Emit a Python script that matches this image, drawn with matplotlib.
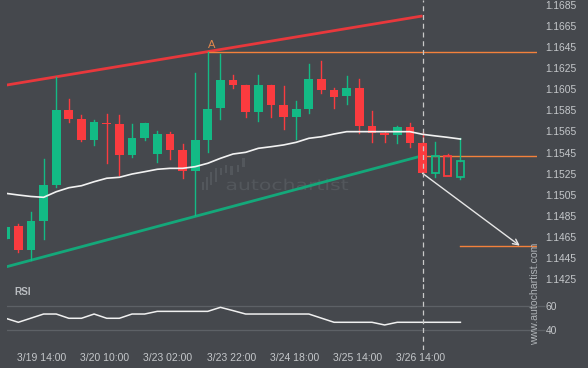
import matplotlib
matplotlib.use("Agg")
import matplotlib.pyplot as plt
from matplotlib.patches import Rectangle, PathPatch
from matplotlib.textpath import TextPath
from matplotlib.font_manager import FontProperties
from matplotlib.transforms import Affine2D, IdentityTransform
import numpy as np

# ---------------- data ----------------
opens = [1.14630, 1.14750, 1.14525, 1.14803, 1.15142, 1.15854, 1.15768, 1.15569, 1.15733, 1.15721,
         1.15427, 1.15591, 1.15436, 1.15626, 1.15474, 1.15278, 1.15569, 1.15875, 1.16138, 1.16091,
         1.15837, 1.16091, 1.15901, 1.15790, 1.15863, 1.16148, 1.16043, 1.15989, 1.16062, 1.15702,
         1.15632, 1.15616, 1.15692, 1.15538, 1.15253, 1.15417, 1.15221]
highs = [1.14746, 1.14769, 1.14889, 1.15386, 1.16164, 1.15958, 1.15806, 1.15759, 1.15816, 1.15806,
         1.15721, 1.15727, 1.15654, 1.15648, 1.15528, 1.16202, 1.16403, 1.16382, 1.16186, 1.16091,
         1.16186, 1.16091, 1.16081, 1.15939, 1.16290, 1.16319, 1.16060, 1.16176, 1.16148, 1.15844,
         1.15654, 1.15702, 1.15727, 1.15648, 1.15547, 1.15436, 1.15591]
lows = [1.14630, 1.14503, 1.14430, 1.14627, 1.15126, 1.15743, 1.15562, 1.15521, 1.15348, 1.15237,
        1.15410, 1.15569, 1.15363, 1.15386, 1.15205, 1.14857, 1.15458, 1.15765, 1.16060, 1.15784,
        1.15752, 1.15790, 1.15670, 1.15576, 1.15828, 1.16012, 1.15870, 1.15908, 1.15632, 1.15553,
        1.15553, 1.15538, 1.15505, 1.15253, 1.15221, 1.15227, 1.15196]
closes = [1.14746, 1.14525, 1.14800, 1.15142, 1.15854, 1.15768, 1.15569, 1.15743, 1.15721, 1.15427,
          1.15591, 1.15727, 1.15626, 1.15474, 1.15278, 1.15569, 1.15863, 1.16138, 1.16091, 1.15837,
          1.16091, 1.15901, 1.15790, 1.15863, 1.16148, 1.16043, 1.15980, 1.16062, 1.15702, 1.15638,
          1.15616, 1.15692, 1.15543, 1.15253, 1.15417, 1.15227, 1.15367]
n_actual = 34  # candles up to the dashed "now" line (rest are projected / hollow)

moving_avg = [1.15063, 1.15047, 1.15033, 1.15025, 1.15078, 1.15116, 1.15135, 1.15173, 1.15206, 1.15215,
              1.15246, 1.15268, 1.15291, 1.15300, 1.15300, 1.15316, 1.15348, 1.15395, 1.15436, 1.15452,
              1.15490, 1.15505, 1.15522, 1.15547, 1.15585, 1.15600, 1.15626, 1.15648, 1.15648, 1.15648,
              1.15648, 1.15648, 1.15648, 1.15623, 1.15608, 1.15594, 1.15578]

rsi = [49.9, 46.6, 50.0, 53.4, 53.4, 49.9, 49.9, 53.4, 49.9, 49.9, 53.4, 53.4, 55.6, 55.6, 55.6,
       55.6, 55.6, 58.9, 56.2, 53.4, 53.4, 53.4, 53.4, 53.4, 53.4, 50.0, 46.6, 46.6, 46.6, 46.6,
       44.4, 46.6, 46.6, 46.6, 46.6, 46.6, 46.6]

resist_x = [0, 33]
resist_y = [1.16089, 1.16746]
support_x = [0, 33]
support_y = [1.14364, 1.15420]

a_index = 16
a_level = 1.16403
break_level = 1.15420
target_index = 36
target_level = 1.14566
arrow_end_index = 40.7

price_ticks = [1.1425, 1.1445, 1.1465, 1.1485, 1.1505, 1.1525, 1.1545, 1.1565, 1.1585,
               1.1605, 1.1625, 1.1645, 1.1665, 1.1685]
rsi_ticks = [40, 60]
x_tick_idx = [3, 8, 13, 18, 23, 28, 33]
x_tick_labels = ["3/19 14:00", "3/20 10:00", "3/23 02:00", "3/23 22:00",
                 "3/24 18:00", "3/25 14:00", "3/26 14:00"]

# ---------------- style ----------------
BG = "#45484d"
RED = "#fb3b3f"
GREEN = "#13ba85"
RED_LINE = "#e8383c"
GREEN_LINE = "#14a87a"
ORANGE = "#f3813c"
TXT = "#c4c7ca"
GRID = "#5d6166"
WM = "#53575c"

plt.rcParams['font.family'] = ['Liberation Sans', 'DejaVu Sans']

W, H = 588, 368
fig = plt.figure(figsize=(W / 100, H / 100), dpi=100, facecolor=BG)

left_px, right_px = 6.7, 536.7
main_top, main_bot = 0, 282
rsi_top, rsi_bot = 282, 350

ax = fig.add_axes([left_px / W, 1 - main_bot / H, (right_px - left_px) / W, (main_bot - main_top) / H])
ax2 = fig.add_axes([left_px / W, 1 - rsi_bot / H, (right_px - left_px) / W, (rsi_bot - rsi_top) / H], sharex=ax)

for a in (ax, ax2):
    a.set_facecolor(BG)
    for s in a.spines.values():
        s.set_visible(False)

xlim = (0.08, 42.04)
ax.set_xlim(*xlim)
ax.set_ylim(1.142214, 1.168974)
ax2.set_ylim(23.8, 79.75)

# ---- watermark (decoration, pixel placement) ----
tp = TextPath((0, 0), "autochartist", size=1, prop=FontProperties(family='DejaVu Sans'))
ext = tp.get_extents()
sx = 121.5 / ext.width
sy = 15.0
wm_tr = Affine2D().scale(sx, sy).translate(226.7 - ext.x0 * sx, H - 190) 
wm_patch = PathPatch(tp, facecolor=WM, edgecolor='none', transform=wm_tr, zorder=0.6)
ax.add_artist(wm_patch)
logo_bars = [(201.7, 181.7, 190), (205.7, 176.7, 190), (210.0, 171.7, 185), (215.0, 168.3, 181.7),
             (219.7, 168.3, 175), (225.0, 165.0, 173.3), (230.3, 166.0, 175), (236.7, 165.0, 171.7),
             (242.3, 158.3, 166.7)]
for bx, btop, bbot in logo_bars:
    ax.add_artist(Rectangle((bx, H - bbot), 2.3, bbot - btop, transform=IdentityTransform(),
                            facecolor=WM, edgecolor='none', zorder=0.6))

# channel lines
ax.plot(resist_x, resist_y, color=RED_LINE, lw=2.0, solid_capstyle='butt', zorder=2)
ax.plot(support_x, support_y, color=GREEN_LINE, lw=2.0, solid_capstyle='butt', zorder=2)

# horizontal levels
ax.plot([a_index, xlim[1]], [a_level, a_level], color=ORANGE, lw=1.0, zorder=2)
ax.plot([n_actual - 1, xlim[1]], [break_level, break_level], color=ORANGE, lw=1.0, zorder=2)
ax.plot([target_index, xlim[1]], [target_level, target_level], color=ORANGE, lw=1.0, zorder=2)
ax.annotate("A", (a_index, a_level), xytext=(3, 1.5), textcoords='offset points',
            color="#e2874c", fontsize=8, ha='center', va='bottom', zorder=4)

# candles
bw = 0.69
for i in range(len(opens)):
    o, h, l, c = opens[i], highs[i], lows[i], closes[i]
    col = GREEN if c >= o else RED
    lo, hi = min(o, c), max(o, c)
    if i < n_actual:
        ax.plot([i, i], [l, h], color=col, lw=1.0, zorder=3)
        ax.add_patch(Rectangle((i - bw / 2, lo), bw, max(hi - lo, 0.00004),
                               facecolor=col, edgecolor='none', zorder=3))
    else:
        ax.plot([i, i], [hi, h], color=col, lw=1.0, zorder=3)
        ax.plot([i, i], [l, lo], color=col, lw=1.0, zorder=3)
        ax.add_patch(Rectangle((i - bw / 2 + 0.06, lo), bw - 0.12, hi - lo,
                               facecolor='none', edgecolor=col, lw=1.3, zorder=3))

# moving average
x_all = np.arange(len(moving_avg))
ax.plot(x_all, moving_avg, color="#f2f2f2", lw=1.2, zorder=4)

# forecast arrow
ax.annotate("", xy=(arrow_end_index, target_level), xytext=(n_actual - 1, closes[n_actual - 1]),
            arrowprops=dict(arrowstyle='->', color="#e6e6e6", lw=1.0,
                            shrinkA=0, shrinkB=0, mutation_scale=10), zorder=4)

# now line
for a in (ax, ax2):
    a.axvline(n_actual - 1, color="#c9c9c9", lw=0.9, ls=(0, (4, 3)), zorder=5)

# RSI
for v in rsi_ticks:
    ax2.axhline(v, color=GRID, lw=0.9, zorder=1)
ax2.plot(np.arange(len(rsi)), rsi, color="#f0f0f0", lw=1.1, zorder=3)
ax2.text((14 - left_px) / (right_px - left_px), 1 - (291.7 - rsi_top) / (rsi_bot - rsi_top), "RSI",
         transform=ax2.transAxes, color="#b9bcc0", fontsize=7.2, fontweight='bold',
         ha='left', va='center')

# axes ticks
ax.yaxis.tick_right()
ax.set_yticks(price_ticks)
ax.set_yticklabels([f"{v:.4f}" for v in price_ticks])
ax.tick_params(axis='y', length=0, pad=6.2, labelsize=7.4, labelcolor=TXT)
ax.tick_params(axis='x', bottom=False, labelbottom=False)

ax2.yaxis.tick_right()
ax2.set_yticks(rsi_ticks)
ax2.set_yticklabels([str(v) for v in rsi_ticks])
ax2.tick_params(axis='y', length=5.5, width=0.9, color=GRID, pad=1, labelsize=7.4, labelcolor=TXT)
ax2.set_xticks([v - 0.15 for v in x_tick_idx])
ax2.set_xticklabels(x_tick_labels)
ax2.tick_params(axis='x', length=0, pad=2.5, labelsize=7.5, labelcolor=TXT)

# vertical site text
fig.text(535.5 / W, 1 - 294 / H, "www.autochartist.com", rotation=90, color="#aeb2b6",
         fontsize=7.6, ha='center', va='center')

fig.savefig("out.png", dpi=100, facecolor=BG)
